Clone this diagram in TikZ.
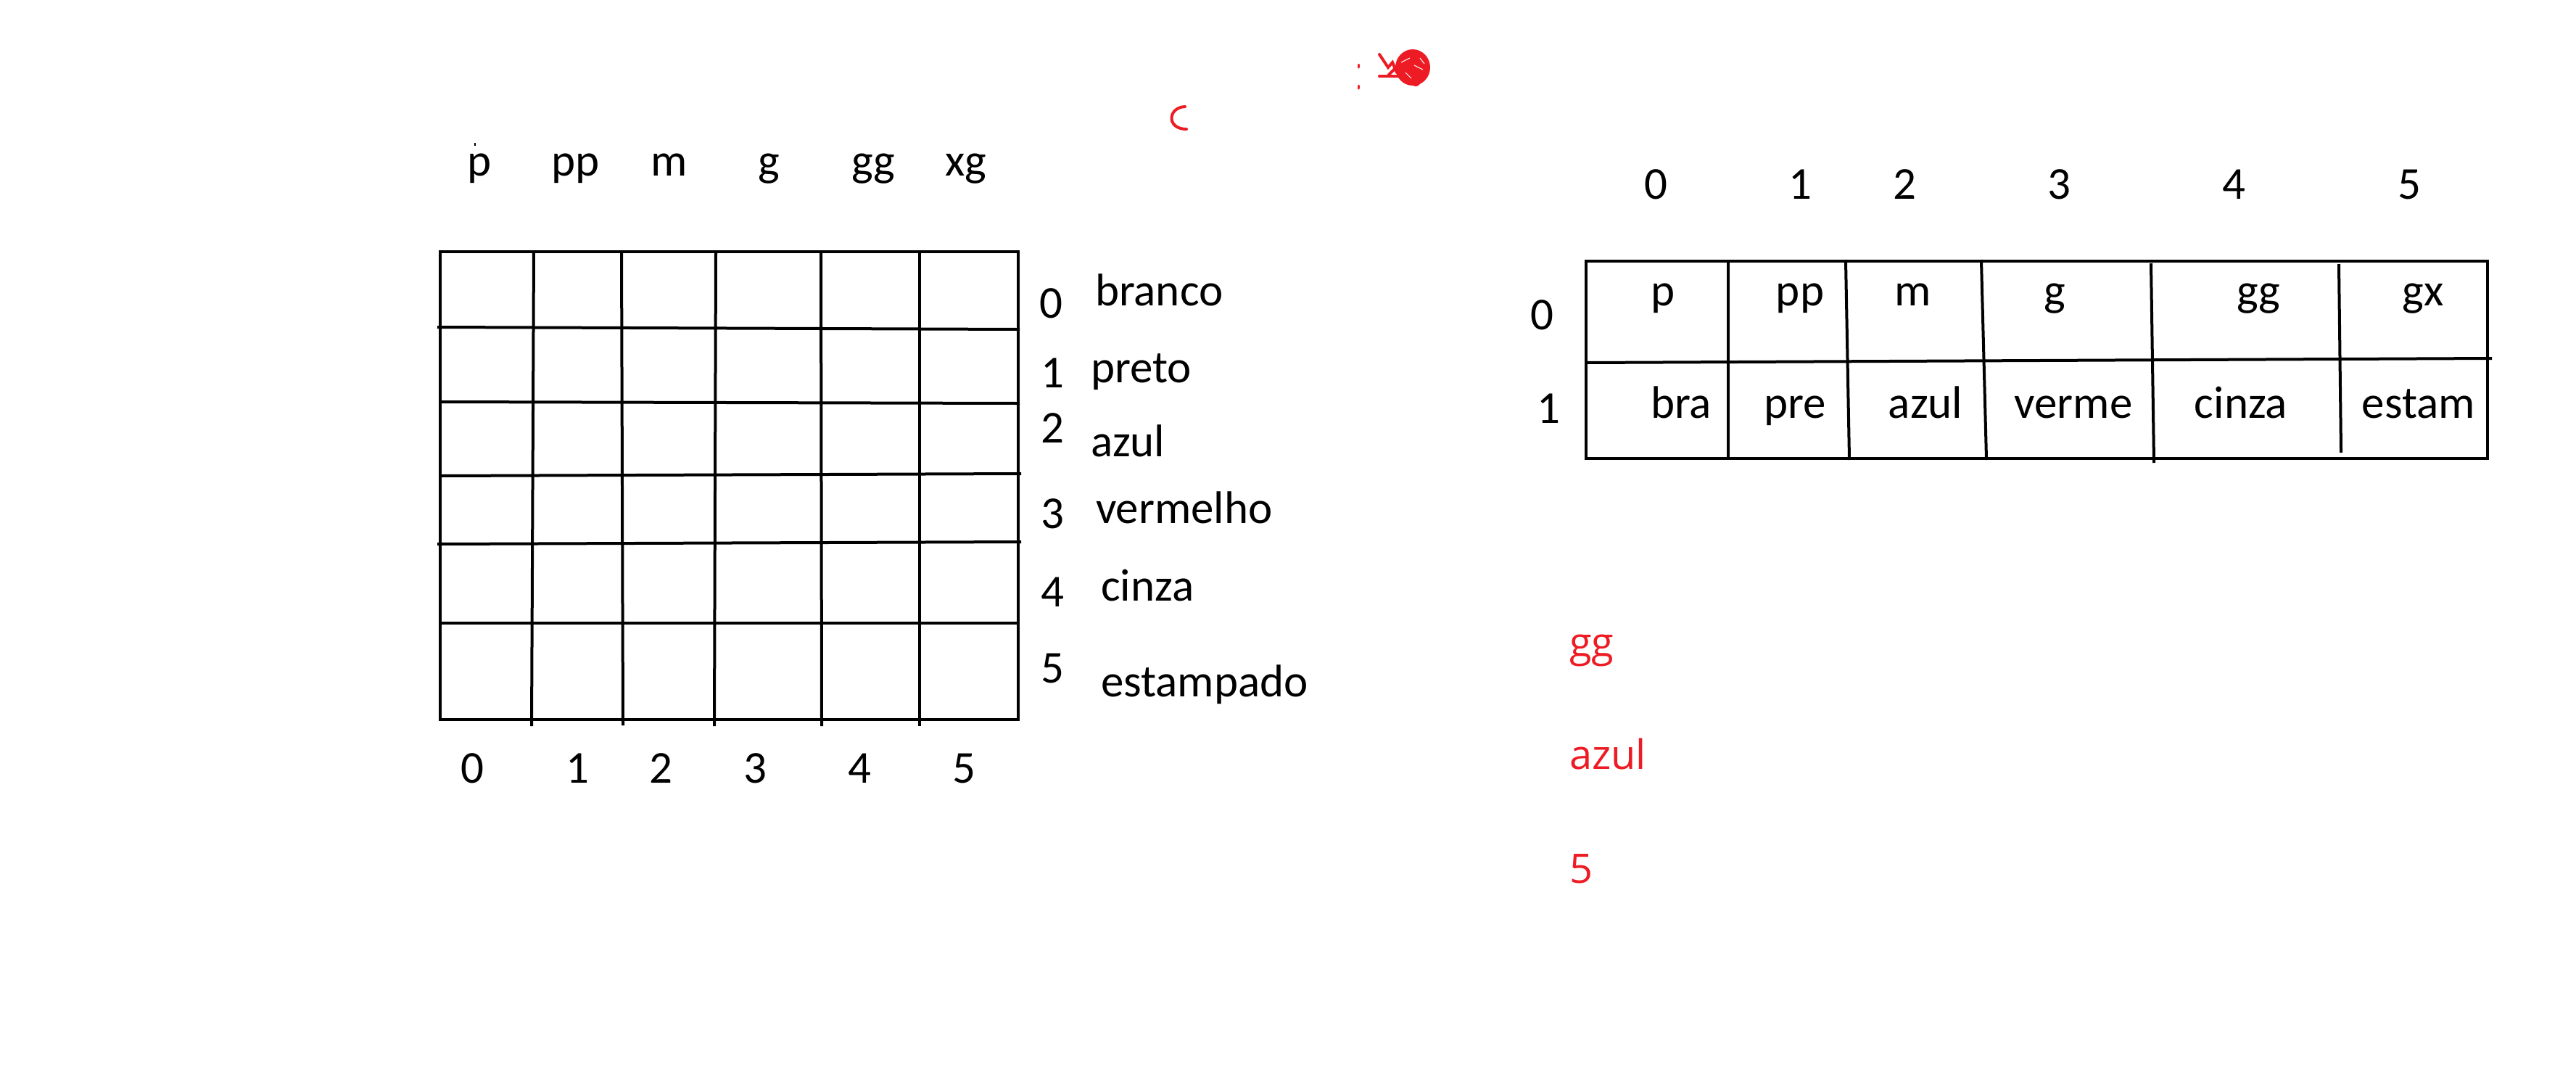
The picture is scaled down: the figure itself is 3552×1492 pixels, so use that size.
\documentclass[tikz,border=0pt]{standalone}
\usepackage{fontspec}
\setmainfont{Carlito}
\newfontfamily\redfont{Open Sans}
\definecolor{inkred}{HTML}{ED1C24}
\begin{document}
\begin{tikzpicture}[x=1pt,y=-1pt,line width=4pt,
  lbl/.style={inner sep=0pt,anchor=base,font=\fontsize{63}{76}\selectfont},
  lbll/.style={lbl,anchor=base west},
  redlbl/.style={inner sep=0pt,anchor=base west,text=inkred,font=\redfont\fontsize{56}{68}\selectfont},
  gridline/.style={line width=4pt,line cap=rect},
  scribble/.style={draw=inkred,line width=4pt,line cap=round}]
\useasboundingbox (0,0) rectangle (3552,1492);

% ---------- left grid ----------
\draw[gridline] (607,347) rectangle (1404,992);
\draw[gridline] (605,451)--(1404,454);
\draw[gridline] (607,554)--(1404,556);
\draw[gridline] (607,656)--(1406,653);
\draw[gridline] (605,750)--(1406,747);
\draw[gridline] (607,859)--(1404,859);
\draw[gridline] (736,347)--(733,999);
\draw[gridline] (857,347)--(859,998);
\draw[gridline] (987,347)--(985,999);
\draw[gridline] (1132,347)--(1133,999);
\draw[gridline] (1268,347)--(1268,999);

% top labels
\node[lbl] (tp)  at (661,242) {p};
\node[lbl] (tpp) at (794,242) {pp};
\node[lbl] (tm)  at (923,242) {m};
\node[lbl] (tg)  at (1060,242) {g};
\node[lbl] (tgg) at (1204,242) {gg};
\node[lbl] (txg) at (1332,242) {xg};
\draw[line width=2pt] (655,197)--(655,201);

% bottom labels
\node[lbl] (b0) at (651,1079) {0};
\node[lbl] (b1) at (796,1079) {1};
\node[lbl] (b2) at (911,1079) {2};
\node[lbl] (b3) at (1041,1079) {3};
\node[lbl] (b4) at (1185,1079) {4};
\node[lbl] (b5) at (1329,1079) {5};

% row labels
\node[lbl] (r0) at (1449,438) {0};
\node[lbll] (c0) at (1508,421) {branco};
\node[lbl] (r1) at (1451,534) {1};
\node[lbll] (c1) at (1502,527) {preto};
\node[lbl] (r2) at (1451,610) {2};
\node[lbll] (c2) at (1502,629) {azul};
\node[lbl] (r3) at (1451,728) {3};
\node[lbll] (c3) at (1509,721) {vermelho};
\node[lbl] (r4) at (1451,836) {4};
\node[lbll] (c4) at (1516,828) {cinza};
\node[lbl] (r5) at (1451,941) {5};
\node[lbll] (c5) at (1516,960) {estampado};

% ---------- right table ----------
\draw[gridline,line width=4.5pt] (2187,360)--(3430,360);
\draw[gridline,line width=4.5pt] (2187,632)--(3430,632);
\draw[gridline] (2187,360)--(2187,632);
\draw[gridline] (3430,360)--(3430,632);
\draw[gridline] (2187,500)--(3434,494);
\draw[gridline] (2383,360)--(2383,632);
\draw[gridline] (2545,360)--(2550,632);
\draw[gridline] (2732,360)--(2739,632);
\draw[gridline] (2966,365)--(2970,636);
\draw[gridline] (3225,366)--(3228,622);

\node[lbl] (h0) at (2283,274) {0};
\node[lbl] (h1) at (2482,274) {1};
\node[lbl] (h2) at (2626,274) {2};
\node[lbl] (h3) at (2839,274) {3};
\node[lbl] (h4) at (3080,274) {4};
\node[lbl] (h5) at (3322,274) {5};

\node[lbl] (v0) at (2126,454) {0};
\node[lbl] (v1) at (2135,583) {1};

\node[lbl] (s0) at (2293,421) {p};
\node[lbl] (s1) at (2482,421) {pp};
\node[lbl] (s2) at (2638,421) {m};
\node[lbl] (s3) at (2833,421) {g};
\node[lbl] (s4) at (3114,421) {gg};
\node[lbl] (s5) at (3341,421) {gx};

\node[lbl] (k0) at (2318,576) {bra};
\node[lbl] (k1) at (2475,576) {pre};
\node[lbl] (k2) at (2655,576) {azul};
\node[lbl] (k3) at (2859,576) {verme};
\node[lbl] (k4) at (3090,576) {cinza};
\node[lbl] (k5) at (3335,576) {estam};

% ---------- red notes ----------
\node[redlbl] (q1) at (2162,905) {gg};
\node[redlbl] (q2) at (2162,1060) {azul};
\node[redlbl] (q3) at (2162,1217) {5};

% ---------- red scribbles ----------
\draw[scribble] (1634,147) .. controls (1610,148) and (1608,178) .. (1636,178);
\draw[scribble,line width=3pt] (1873,89)--(1873,93);
\draw[scribble,line width=3pt] (1873,118)--(1873,122);
\fill[inkred] (1948,93) ellipse (24 and 25);
\fill[inkred] (1952,112) circle (7);
\draw[scribble] (1902,75)--(1914,93)--(1920,86)--(1926,100);
\draw[scribble] (1902,105)--(1932,105);
\draw[scribble] (1915,103)--(1930,88);
\draw[white,line width=1pt] (1932,86)--(1944,80);
\draw[white,line width=1pt] (1950,90)--(1962,96);
\draw[white,line width=1pt] (1938,100)--(1946,108);
\draw[white,line width=1pt] (1958,80)--(1964,88);
\end{tikzpicture}
\end{document}
